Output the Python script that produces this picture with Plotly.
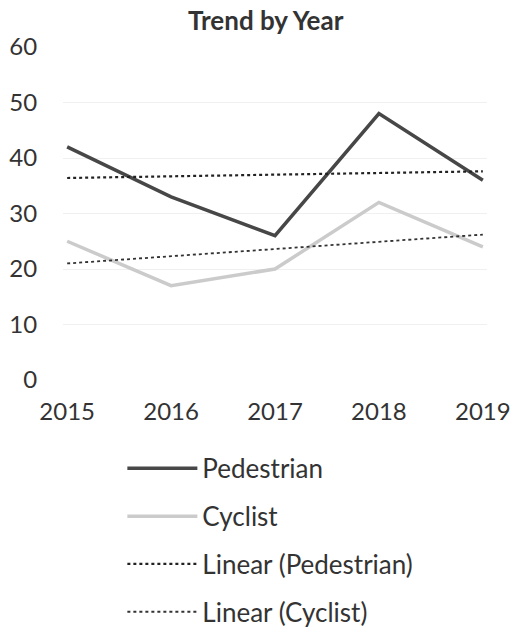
import numpy as np
import plotly.graph_objects as go

years = [2015, 2016, 2017, 2018, 2019]
pedestrian = [42, 33, 26, 48, 36]
cyclist = [25, 17, 20, 32, 24]

# линейные тренды, как в Excel
ped_fit = np.polyfit(years, pedestrian, 1)
cyc_fit = np.polyfit(years, cyclist, 1)
ped_trend = np.polyval(ped_fit, years)
cyc_trend = np.polyval(cyc_fit, years)

fig = go.Figure()
fig.add_trace(go.Scatter(x=years, y=pedestrian, name="Pedestrian", mode="lines",
                         line=dict(color="#474747", width=3.5), legendgroup="a"))
fig.add_trace(go.Scatter(x=years, y=cyclist, name="Cyclist", mode="lines",
                         line=dict(color="#cbcbcb", width=3.5), legendgroup="b"))
fig.add_trace(go.Scatter(x=years, y=ped_trend, name="Linear (Pedestrian)", mode="lines",
                         line=dict(color="#222222", width=2.2, dash="dot"), legendgroup="c"))
fig.add_trace(go.Scatter(x=years, y=cyc_trend, name="Linear (Cyclist)", mode="lines",
                         line=dict(color="#333333", width=1.8, dash="dot"), legendgroup="d"))

fig.update_layout(
    width=515, height=627,
    margin=dict(l=63, r=28, t=47, b=247, autoexpand=False),
    paper_bgcolor="white", plot_bgcolor="white",
    font=dict(family="Lato, Noto Sans, sans-serif", size=24, color="#333333"),
    title=dict(text="<b>Trend by Year</b>", x=0.516, xanchor="center", y=0.966, yanchor="middle",
               font=dict(size=26, color="#333333")),
    showlegend=True,
    legend=dict(orientation="v", x=0.14, y=-0.195, xanchor="left", yanchor="top",
                font=dict(size=26, color="#333333"), itemwidth=70, tracegroupgap=11,
                bgcolor="rgba(0,0,0,0)"),
)
fig.update_xaxes(range=[2014.96, 2019.04], tickvals=years, ticktext=[str(y) for y in years],
                 showgrid=False, zeroline=False, showline=False, automargin=False,
                 ticks="outside", ticklen=10, tickcolor="white")
fig.update_yaxes(range=[0, 60], tickvals=[0, 10, 20, 30, 40, 50, 60],
                 showgrid=True, gridcolor="#f0f0f0", gridwidth=1, zeroline=False, showline=False,
                 automargin=False, ticks="outside", ticklen=20, tickcolor="white")

# убираем стандартный отступ body, чтобы фигура заняла всё окно
fig.write_html("out.html", config={"displayModeBar": False},
               post_script="document.body.style.margin='0';")
